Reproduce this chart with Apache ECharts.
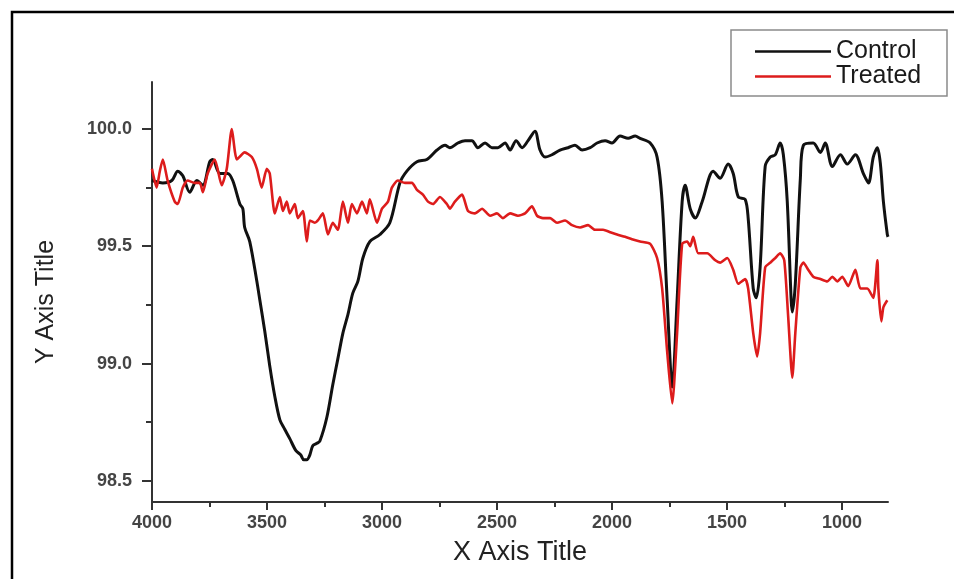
<!DOCTYPE html>
<html>
<head>
<meta charset="utf-8">
<style>
  html, body { margin: 0; padding: 0; background: #ffffff; }
  #chart { width: 954px; height: 579px; }
</style>
<script src="https://cdn.jsdelivr.net/npm/echarts@6/dist/echarts.min.js"></script>
</head>
<body>
<div id="chart"></div>
<script>
// ---- Data ----
const seriesNames = ["Control", "Treated"];

const controlWavenumber = [4000, 3953, 3914, 3888, 3866, 3836, 3805, 3779, 3749, 3736, 3705, 3671, 3649, 3618, 3605, 3597, 3575, 3544, 3531, 3510, 3488, 3466, 3444, 3423, 3401, 3375, 3353, 3340, 3327, 3314, 3301, 3283, 3270, 3240, 3214, 3192, 3170, 3148, 3127, 3105, 3083, 3053, 3009, 2966, 2922, 2892, 2848, 2805, 2761, 2726, 2705, 2670, 2639, 2609, 2583, 2552, 2522, 2496, 2465, 2443, 2417, 2391, 2365, 2335, 2313, 2291, 2261, 2226, 2191, 2161, 2130, 2095, 2065, 2030, 2000, 1965, 1930, 1899, 1878, 1834, 1804, 1782, 1760, 1738, 1717, 1695, 1682, 1660, 1638, 1608, 1560, 1530, 1495, 1473, 1451, 1421, 1408, 1386, 1373, 1356, 1334, 1312, 1290, 1269, 1255, 1238, 1221, 1216, 1203, 1181, 1168, 1125, 1094, 1073, 1042, 1007, 977, 942, 907, 885, 864, 846, 833, 820, 803, 800];
const controlValues = [99.78, 99.77, 99.78, 99.82, 99.80, 99.73, 99.78, 99.76, 99.86, 99.87, 99.81, 99.81, 99.78, 99.68, 99.66, 99.58, 99.52, 99.35, 99.27, 99.14, 98.99, 98.86, 98.76, 98.72, 98.68, 98.63, 98.61, 98.59, 98.59, 98.61, 98.65, 98.66, 98.67, 98.77, 98.91, 99.02, 99.13, 99.21, 99.30, 99.35, 99.45, 99.52, 99.55, 99.60, 99.77, 99.82, 99.86, 99.87, 99.91, 99.93, 99.92, 99.94, 99.95, 99.95, 99.92, 99.94, 99.92, 99.92, 99.94, 99.91, 99.95, 99.92, 99.95, 99.99, 99.91, 99.88, 99.89, 99.91, 99.92, 99.93, 99.91, 99.92, 99.94, 99.95, 99.94, 99.97, 99.96, 99.97, 99.96, 99.94, 99.88, 99.69, 99.27, 98.90, 99.27, 99.69, 99.76, 99.66, 99.62, 99.69, 99.82, 99.79, 99.85, 99.81, 99.71, 99.70, 99.62, 99.32, 99.28, 99.41, 99.84, 99.88, 99.89, 99.94, 99.89, 99.69, 99.27, 99.22, 99.34, 99.79, 99.93, 99.94, 99.90, 99.94, 99.84, 99.89, 99.85, 99.89, 99.81, 99.77, 99.88, 99.92, 99.85, 99.69, 99.55, 99.54];

const treatedWavenumber = [4000, 3996, 3980, 3966, 3953, 3932, 3901, 3888, 3866, 3845, 3814, 3792, 3779, 3758, 3727, 3697, 3675, 3653, 3631, 3597, 3566, 3544, 3523, 3501, 3488, 3466, 3444, 3431, 3414, 3401, 3379, 3366, 3344, 3327, 3314, 3292, 3279, 3257, 3235, 3214, 3192, 3170, 3148, 3131, 3109, 3087, 3066, 3053, 3022, 3000, 2974, 2957, 2931, 2900, 2870, 2848, 2822, 2800, 2778, 2748, 2718, 2705, 2683, 2652, 2626, 2596, 2565, 2530, 2500, 2474, 2443, 2409, 2378, 2348, 2326, 2300, 2269, 2239, 2204, 2174, 2139, 2104, 2074, 2039, 2008, 1978, 1943, 1913, 1878, 1834, 1804, 1782, 1760, 1738, 1717, 1695, 1673, 1660, 1647, 1625, 1586, 1551, 1530, 1499, 1473, 1451, 1421, 1408, 1386, 1369, 1356, 1334, 1312, 1290, 1269, 1251, 1234, 1216, 1203, 1181, 1168, 1147, 1125, 1094, 1064, 1042, 1020, 999, 973, 942, 920, 890, 864, 846, 842, 829, 820, 803];
const treatedValues = [99.83, 99.81, 99.75, 99.82, 99.87, 99.78, 99.69, 99.68, 99.75, 99.78, 99.77, 99.77, 99.73, 99.81, 99.87, 99.76, 99.83, 100.00, 99.87, 99.90, 99.88, 99.83, 99.75, 99.83, 99.81, 99.64, 99.71, 99.65, 99.69, 99.64, 99.68, 99.62, 99.65, 99.52, 99.61, 99.60, 99.61, 99.64, 99.55, 99.60, 99.57, 99.69, 99.60, 99.68, 99.64, 99.69, 99.64, 99.70, 99.60, 99.66, 99.69, 99.75, 99.78, 99.77, 99.77, 99.74, 99.72, 99.69, 99.68, 99.71, 99.68, 99.66, 99.69, 99.72, 99.65, 99.64, 99.66, 99.63, 99.64, 99.62, 99.64, 99.63, 99.64, 99.67, 99.63, 99.62, 99.62, 99.60, 99.61, 99.59, 99.58, 99.59, 99.57, 99.57, 99.56, 99.55, 99.54, 99.53, 99.52, 99.51, 99.45, 99.32, 99.05, 98.83, 99.13, 99.51, 99.52, 99.50, 99.54, 99.47, 99.47, 99.44, 99.43, 99.45, 99.40, 99.34, 99.36, 99.32, 99.13, 99.03, 99.13, 99.41, 99.43, 99.45, 99.47, 99.44, 99.20, 98.94, 99.13, 99.41, 99.43, 99.40, 99.37, 99.36, 99.35, 99.37, 99.35, 99.37, 99.33, 99.40, 99.32, 99.32, 99.28, 99.44, 99.32, 99.18, 99.24, 99.27];

const xMajorTicks = [1000, 1500, 2000, 2500, 3000, 3500, 4000];
const xMinorTicks = [1250, 1750, 2250, 2750, 3250, 3750];
const yMajorTicks = [98.5, 99.0, 99.5, 100.0];
const yMinorTicks = [98.75, 99.25, 99.75];

const xTitle = "X Axis Title";
const yTitle = "Y Axis Title";

// ---- Build ----
function pairs(xs, ys) { return xs.map((x, i) => [x, ys[i]]); }

const axisColor = "#333333";
const fontFam = "Liberation Sans, Arial, sans-serif";
const labelFont = { color: "#444444", fontSize: 18, fontWeight: "bold", fontFamily: fontFam };

const chart = echarts.init(document.getElementById("chart"), null, { renderer: "canvas" });

const option = {
  backgroundColor: "#ffffff",
  animation: false,
  graphic: [
    { type: "rect", shape: { x: 12, y: 12, width: 1000, height: 1000 }, style: { fill: "none", stroke: "#000", lineWidth: 2.5 }, silent: true, z: 0 },
    { type: "rect", shape: { x: 731, y: 30, width: 216, height: 66 }, style: { fill: "#fff", stroke: "#8a8a8a", lineWidth: 1.5 }, silent: true, z: 1 }
  ],
  legend: {
    orient: "vertical",
    left: 755,
    top: 39,
    itemWidth: 76,
    itemHeight: 2.5,
    itemGap: 0,
    icon: "rect",
    z: 5,
    textStyle: { color: "#1a1a1a", fontSize: 25, lineHeight: 25, fontFamily: fontFam, padding: [0, 0, 0, 0] },
    padding: 0,
    data: seriesNames
  },
  grid: { left: 152, right: 66, top: 82, bottom: 77, containLabel: false },
  xAxis: [
    {
      type: "value", min: 800, max: 4000, inverse: true, position: "bottom",
      name: xTitle, nameLocation: "middle", nameGap: 37,
      nameTextStyle: { color: "#222", fontSize: 27, fontFamily: fontFam },
      axisLine: { show: true, onZero: false, lineStyle: { color: axisColor, width: 2 } },
      axisTick: { show: true, inside: false, length: 8, customValues: xMajorTicks, lineStyle: { color: axisColor, width: 2 } },
      axisLabel: Object.assign({ show: true, margin: 12, customValues: xMajorTicks, formatter: v => String(v) }, labelFont),
      splitLine: { show: false }
    },
    {
      type: "value", min: 800, max: 4000, inverse: true, position: "bottom",
      axisLine: { show: false, onZero: false },
      axisTick: { show: true, inside: false, length: 5, customValues: xMinorTicks, lineStyle: { color: axisColor, width: 2 } },
      axisLabel: { show: false },
      splitLine: { show: false }
    }
  ],
  yAxis: [
    {
      type: "value", min: 98.41, max: 100.2, position: "left",
      name: yTitle, nameLocation: "middle", nameGap: 93, nameRotate: 90,
      nameTextStyle: { color: "#222", fontSize: 25, fontFamily: fontFam, padding: [0, 20, 0, 0] },
      axisLine: { show: true, onZero: false, lineStyle: { color: axisColor, width: 2 } },
      axisTick: { show: true, inside: false, length: 10, customValues: yMajorTicks, lineStyle: { color: axisColor, width: 2 } },
      axisLabel: Object.assign({ show: true, margin: 20, customValues: yMajorTicks, formatter: v => v.toFixed(1) }, labelFont),
      splitLine: { show: false }
    },
    {
      type: "value", min: 98.41, max: 100.2, position: "left",
      axisLine: { show: false, onZero: false },
      axisTick: { show: true, inside: false, length: 6, customValues: yMinorTicks, lineStyle: { color: axisColor, width: 2 } },
      axisLabel: { show: false },
      splitLine: { show: false }
    }
  ],
  series: [
    {
      name: seriesNames[0], type: "line", xAxisIndex: 0, yAxisIndex: 0,
      data: pairs(controlWavenumber, controlValues),
      showSymbol: false, symbol: "none", smooth: 0.3,
      lineStyle: { color: "#111111", width: 3 },
      itemStyle: { color: "#111111" }, z: 2
    },
    {
      name: seriesNames[1], type: "line", xAxisIndex: 0, yAxisIndex: 0,
      data: pairs(treatedWavenumber, treatedValues),
      showSymbol: false, symbol: "none", smooth: 0.2,
      lineStyle: { color: "#dd1c1c", width: 2.6 },
      itemStyle: { color: "#dd1c1c" }, z: 3
    }
  ]
};
chart.setOption(option);
</script>
</body>
</html>
